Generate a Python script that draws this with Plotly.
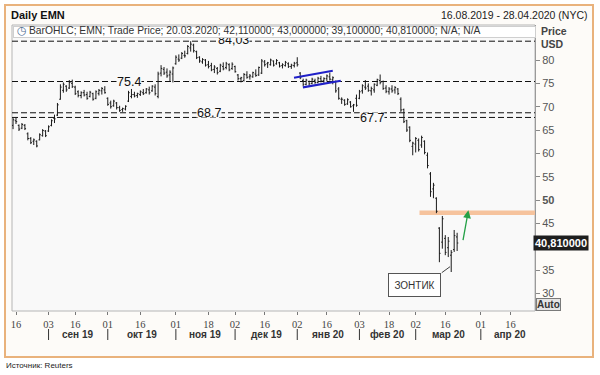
import plotly.graph_objects as go

# ---------------- data ----------------
dates = [
    "2019-08-15", "2019-08-16", "2019-08-19", "2019-08-20", "2019-08-21", "2019-08-22", "2019-08-23",
    "2019-08-26", "2019-08-27", "2019-08-28", "2019-08-29", "2019-08-30",
    "2019-09-03", "2019-09-04", "2019-09-05", "2019-09-06", "2019-09-09", "2019-09-10", "2019-09-11",
    "2019-09-12", "2019-09-13", "2019-09-16", "2019-09-17", "2019-09-18", "2019-09-19", "2019-09-20",
    "2019-09-23", "2019-09-24", "2019-09-25", "2019-09-26", "2019-09-27", "2019-09-30",
    "2019-10-01", "2019-10-02", "2019-10-03", "2019-10-04", "2019-10-07", "2019-10-08", "2019-10-09",
    "2019-10-10", "2019-10-11", "2019-10-14", "2019-10-15", "2019-10-16", "2019-10-17", "2019-10-18",
    "2019-10-21", "2019-10-22", "2019-10-23", "2019-10-24", "2019-10-25", "2019-10-28", "2019-10-29",
    "2019-10-30", "2019-10-31",
    "2019-11-01", "2019-11-04", "2019-11-05", "2019-11-06", "2019-11-07", "2019-11-08", "2019-11-11",
    "2019-11-12", "2019-11-13", "2019-11-14", "2019-11-15", "2019-11-18", "2019-11-19", "2019-11-20",
    "2019-11-21", "2019-11-22", "2019-11-25", "2019-11-26", "2019-11-27", "2019-11-29",
    "2019-12-02", "2019-12-03", "2019-12-04", "2019-12-05", "2019-12-06", "2019-12-09", "2019-12-10",
    "2019-12-11", "2019-12-12", "2019-12-13", "2019-12-16", "2019-12-17", "2019-12-18", "2019-12-19",
    "2019-12-20", "2019-12-23", "2019-12-24", "2019-12-26", "2019-12-27", "2019-12-30", "2019-12-31",
    "2020-01-02", "2020-01-03", "2020-01-06", "2020-01-07", "2020-01-08", "2020-01-09", "2020-01-10",
    "2020-01-13", "2020-01-14", "2020-01-15", "2020-01-16", "2020-01-17", "2020-01-21", "2020-01-22",
    "2020-01-23", "2020-01-24", "2020-01-27", "2020-01-28", "2020-01-29", "2020-01-30", "2020-01-31",
    "2020-02-03", "2020-02-04", "2020-02-05", "2020-02-06", "2020-02-07", "2020-02-10", "2020-02-11",
    "2020-02-12", "2020-02-13", "2020-02-14", "2020-02-18", "2020-02-19", "2020-02-20", "2020-02-21",
    "2020-02-24", "2020-02-25", "2020-02-26", "2020-02-27", "2020-02-28",
    "2020-03-02", "2020-03-03", "2020-03-04", "2020-03-05", "2020-03-06", "2020-03-09", "2020-03-10",
    "2020-03-11", "2020-03-12", "2020-03-13", "2020-03-16", "2020-03-17", "2020-03-18", "2020-03-19",
    "2020-03-20",
]

opens = [
    66.0, 67.0, 66.0, 65.4, 66.0, 64.2, 63.2, 62.6, 62.6, 62.9, 63.8, 64.8,
    64.8, 66.0, 67.5, 68.2, 71.6, 73.5, 74.4, 74.0, 75.0, 74.2, 73.2, 72.4, 73.0, 72.6, 72.2, 72.8, 71.8, 72.8, 73.4, 73.6,
    71.8, 70.8, 70.2, 70.8, 69.8, 69.4, 69.5, 71.2, 72.2, 72.6, 72.4, 72.6, 73.0, 73.0, 73.6, 73.4, 74.2, 72.2, 77.2, 78.0, 77.4, 76.8, 77.0,
    79.2, 80.2, 80.4, 81.0, 81.4, 82.6, 83.2, 81.8, 80.6, 79.6, 80.0, 79.0, 78.8, 78.0, 78.2, 77.6, 78.6, 78.4, 79.0, 78.2,
    78.6, 76.8, 76.0, 75.6, 76.8, 76.4, 76.4, 77.0, 76.8, 77.2, 79.6, 79.2, 79.0, 79.8, 79.2, 79.4, 78.8, 78.8, 79.2, 78.6, 78.8,
    79.4, 77.2, 75.6, 74.8, 75.4, 75.0, 75.6, 75.2, 76.0, 75.6, 76.0, 76.4, 75.8, 75.4, 73.8, 71.6, 71.4, 70.6, 71.0, 70.2, 71.8,
    71.8, 73.4, 74.2, 74.4, 73.4, 73.6, 74.6, 75.6, 75.4, 74.0, 73.2, 73.8, 73.6, 73.8, 71.6, 69.4, 67.0, 65.6, 61.5,
    62.0, 62.8, 61.8, 62.6, 59.6, 55.6, 52.4, 50.4, 44.0, 41.0, 41.8, 39.8, 38.2, 39.4, 42.11,
]
highs = [
    67.6, 67.8, 66.2, 66.5, 66.3, 64.5, 63.5, 63.2, 62.8, 64.3, 65.2, 65.0,
    66.0, 67.3, 68.3, 70.8, 74.8, 75.2, 74.6, 75.7, 75.8, 74.5, 73.5, 73.3, 73.6, 73.2, 73.4, 73.0, 73.5, 73.8, 74.2, 74.4,
    72.0, 71.3, 71.5, 71.0, 70.2, 69.8, 70.3, 73.4, 73.8, 73.2, 73.0, 73.5, 73.8, 74.0, 74.3, 74.6, 74.8, 77.5, 78.9, 78.5, 78.2, 77.8, 78.6,
    81.0, 81.2, 81.7, 82.0, 83.2, 84.03, 83.5, 82.0, 80.8, 80.4, 80.2, 79.8, 79.4, 78.9, 78.5, 79.2, 79.5, 79.6, 79.3, 79.5,
    78.8, 77.0, 76.4, 77.2, 77.6, 77.0, 77.5, 78.0, 78.6, 80.2, 80.0, 79.6, 80.3, 79.9, 80.2, 79.6, 79.3, 79.8, 79.5, 79.2, 79.6,
    80.6, 77.4, 76.0, 76.0, 75.6, 76.2, 76.0, 76.4, 76.6, 76.3, 76.9, 77.3, 76.5, 75.6, 74.2, 72.0, 71.6, 71.8, 71.2, 70.6, 72.6,
    73.6, 74.8, 75.7, 75.0, 74.3, 75.0, 76.0, 76.9, 75.6, 74.6, 74.2, 74.6, 74.4, 74.0, 72.0, 69.6, 67.2, 65.8, 62.5,
    63.5, 63.2, 63.8, 62.8, 60.2, 56.0, 53.7, 50.6, 44.2, 46.6, 42.5, 42.1, 39.3, 43.6, 43.0,
]
lows = [
    65.2, 66.3, 64.8, 65.2, 65.0, 62.8, 62.0, 61.8, 61.3, 62.8, 63.6, 63.5,
    64.6, 65.8, 66.5, 68.0, 71.5, 73.0, 73.2, 73.8, 74.0, 72.5, 72.0, 71.8, 72.2, 71.5, 72.0, 71.3, 71.6, 72.4, 72.6, 72.8,
    70.2, 69.6, 70.0, 69.4, 68.9, 68.9, 69.2, 71.0, 71.8, 72.0, 71.9, 72.3, 72.5, 72.8, 72.6, 73.2, 72.4, 71.8, 76.5, 76.8, 76.2, 75.4, 75.2,
    79.0, 79.6, 80.2, 80.5, 81.2, 81.8, 81.6, 80.2, 79.4, 79.2, 78.6, 78.2, 77.6, 77.2, 76.9, 77.4, 77.8, 78.0, 77.6, 77.9,
    77.3, 75.6, 75.2, 75.4, 76.0, 75.8, 76.2, 76.4, 76.6, 77.0, 78.6, 78.3, 78.8, 78.6, 79.0, 78.4, 78.2, 78.6, 78.3, 78.1, 78.4,
    78.6, 75.9, 74.4, 74.6, 74.5, 74.8, 74.9, 75.0, 75.2, 75.1, 75.4, 75.6, 74.8, 73.0, 71.5, 70.6, 70.2, 70.4, 69.8, 68.9, 70.0,
    71.6, 72.8, 73.6, 73.2, 72.4, 73.0, 74.4, 74.8, 73.6, 72.9, 72.6, 73.0, 72.8, 72.5, 68.9, 66.5, 64.6, 62.4, 59.6,
    60.2, 60.4, 61.2, 59.8, 56.8, 50.7, 50.4, 47.2, 36.7, 39.6, 38.2, 37.8, 34.6, 38.9, 39.1,
]
closes = [
    67.2, 66.8, 65.2, 66.2, 65.3, 63.2, 62.3, 62.9, 61.6, 64.0, 64.9, 63.8,
    65.7, 67.0, 67.4, 70.4, 74.2, 74.8, 73.6, 75.2, 74.3, 72.8, 72.4, 73.0, 72.5, 71.8, 73.1, 71.6, 73.2, 73.5, 73.9, 73.0,
    70.5, 70.0, 71.2, 69.8, 69.2, 69.6, 70.1, 73.0, 72.6, 72.3, 72.8, 73.2, 72.8, 73.8, 73.0, 74.4, 72.8, 77.0, 78.2, 77.2, 76.6, 77.4, 78.3,
    80.6, 80.0, 81.4, 80.9, 82.9, 83.4, 82.0, 80.5, 79.8, 80.1, 78.9, 78.6, 77.9, 78.5, 77.3, 78.9, 78.1, 79.2, 77.9, 79.1,
    77.5, 76.0, 76.2, 76.9, 76.3, 76.6, 77.3, 76.7, 78.4, 79.8, 79.0, 79.4, 80.0, 78.9, 79.9, 78.7, 79.0, 79.5, 78.6, 78.9, 79.3,
    79.0, 76.2, 74.8, 75.7, 74.9, 75.9, 75.2, 76.1, 75.5, 76.0, 76.6, 75.9, 76.2, 73.4, 71.8, 71.6, 70.5, 71.5, 70.0, 70.4, 70.3,
    73.2, 74.5, 74.0, 73.5, 73.9, 74.8, 75.8, 75.2, 73.9, 73.3, 73.8, 73.4, 74.1, 72.8, 69.3, 66.8, 65.0, 62.8, 62.2,
    63.2, 60.8, 63.4, 60.2, 57.4, 51.8, 53.2, 47.6, 38.6, 46.0, 38.8, 41.2, 38.8, 42.4, 40.81,
]

holidays = ["2019-09-02", "2019-11-28", "2019-12-25", "2020-01-01", "2020-01-20", "2020-02-17", "2020-04-10"]
x_range = ["2019-08-14 15:36", "2020-04-28 07:12"]

day_tick_dates = ["2019-08-16", "2019-09-03", "2019-09-16", "2019-10-01", "2019-10-16", "2019-11-01",
                  "2019-11-18", "2019-12-02", "2019-12-16", "2020-01-02", "2020-01-16", "2020-02-03",
                  "2020-02-18", "2020-03-02", "2020-03-16", "2020-04-01", "2020-04-16"]
day_tick_text = ["16", "03", "16", "01", "16", "01", "18", "02", "16", "02", "16", "03", "18", "02", "16", "01", "16"]

month_labels = ["сен 19", "окт 19", "ноя 19", "дек 19", "янв 20", "фев 20", "мар 20", "апр 20"]
month_label_dates = ["2019-09-17", "2019-10-16 12:00", "2019-11-15", "2019-12-16 12:00",
                     "2020-01-16 12:00", "2020-02-14 12:00", "2020-03-17", "2020-04-16"]
month_start_dates = ["2019-09-03", "2019-10-01", "2019-11-01", "2019-12-02",
                     "2020-01-02", "2020-02-03", "2020-03-02", "2020-04-01"]

# the "40" label sits under the last-price box in the reference, so it is left blank
y_ticks = [30, 35, 40, 45, 50, 55, 60, 65, 70, 75, 80]
y_tick_text = ["30", "35", "", "45", "<b>50</b>", "55", "60", "65", "70", "75", "80"]
y_range = [26.25, 87.5]

levels = [84.03, 75.4, 68.7, 67.7]
level_labels = ["84,03", "75,4", "68,7", "67,7"]

resistance = 47.3
resistance_start = "2020-03-03 07:00"

channel_upper_x = ["2019-12-30 21:36", "2020-01-21 00:00"]
channel_upper_y = [76.21, 77.71]
channel_lower_x = ["2020-01-03 21:36", "2020-01-23 16:48"]
channel_lower_y = [74.15, 75.57]

arrow_tail = ("2020-03-23 21:36", 41.1)
arrow_head = ("2020-03-25 19:12", 47.8)

pointer_start = ("2020-03-12 19:12", 34.45)
pointer_end = ("2020-03-17 14:24", 35.74)

last_price = 40.81
legend_text = ("BarOHLC; EMN; Trade Price; 20.03.2020; 42,110000; 43,000000; "
               "39,100000; 40,810000; N/A; N/A")

# ---------------- layout helpers (pixel -> paper) ----------------
W, H = 600, 375
ML, MR, MT, MB = 12, 65, 25, 64
PW, PH = W - ML - MR, H - MT - MB


def px(x):
    return (x - ML) / PW


def py(y):
    return (H - MB - y) / PH


SANS = "Liberation Sans"

fig = go.Figure()
fig.add_trace(go.Ohlc(
    x=dates, open=opens, high=highs, low=lows, close=closes,
    increasing=dict(line=dict(color="#1a1a1a", width=1)),
    decreasing=dict(line=dict(color="#1a1a1a", width=1)),
    tickwidth=0.4, showlegend=False, hoverinfo="skip",
))

shapes = []
# outer frame
shapes.append(dict(type="rect", xref="paper", yref="paper", x0=px(5), x1=px(593), y0=py(357), y1=py(5),
                   fillcolor="#fdfbf8", line=dict(color="#e9b27c", width=2), layer="below"))
# plot area
shapes.append(dict(type="rect", xref="paper", yref="paper", x0=0, x1=1, y0=0, y1=1,
                   fillcolor="#f9f9f9", line=dict(color="#b5b5b5", width=1), layer="below"))
# level lines
for lv in levels:
    shapes.append(dict(type="line", xref="paper", yref="y", x0=0, x1=1, y0=lv, y1=lv,
                       line=dict(color="#111111", width=1, dash="6px,3px"), layer="below"))
# orange resistance line
shapes.append(dict(type="line", xref="x", yref="y", x0=resistance_start, x1=x_range[1],
                   y0=resistance, y1=resistance, line=dict(color="#f6c39d", width=4.5), layer="below"))
# blue channel
shapes.append(dict(type="line", xref="x", yref="y", x0=channel_upper_x[0], x1=channel_upper_x[1],
                   y0=channel_upper_y[0], y1=channel_upper_y[1], line=dict(color="#2020c8", width=2.2)))
shapes.append(dict(type="line", xref="x", yref="y", x0=channel_lower_x[0], x1=channel_lower_x[1],
                   y0=channel_lower_y[0], y1=channel_lower_y[1], line=dict(color="#2020c8", width=2.2)))
# pointer line to the hammer
shapes.append(dict(type="line", xref="x", yref="y", x0=pointer_start[0], x1=pointer_end[0],
                   y0=pointer_start[1], y1=pointer_end[1], line=dict(color="#444444", width=1)))
# month separators
for d in month_start_dates:
    shapes.append(dict(type="line", xref="x", yref="paper", x0=d, x1=d, y0=py(340), y1=py(329),
                       line=dict(color="#333333", width=1)))

ann = []
# title row
ann.append(dict(xref="paper", yref="paper", x=px(9), y=py(15), xanchor="left", yanchor="middle",
                text="<b>Daily EMN</b>", showarrow=False, font=dict(family=SANS, size=11, color="#111111")))
ann.append(dict(xref="paper", yref="paper", x=px(590), y=py(15), xanchor="right", yanchor="middle",
                text="16.08.2019 - 28.04.2020 (NYC)", showarrow=False,
                font=dict(family=SANS, size=10.5, color="#222222")))
# level labels
level_label_x = [233, 129, 209, 372]
for lv, lab, lx in zip(levels, level_labels, level_label_x):
    if lab == "84,03":
        ann.append(dict(xref="paper", yref="paper", x=px(lx), y=py(39.5), xanchor="center", yanchor="middle",
                        text=lab, showarrow=False, bgcolor="#f9f9f9", borderpad=0,
                        font=dict(family=SANS, size=12.5, color="#111111")))
    else:
        ann.append(dict(xref="paper", yref="y", x=px(lx), y=lv, xanchor="center", yanchor="middle",
                        text=lab, showarrow=False, bgcolor="#f9f9f9", borderpad=0, height=9,
                        font=dict(family=SANS, size=12.5, color="#111111")))
# legend strip (drawn after 84,03 so that it covers its top)
ann.append(dict(xref="paper", yref="paper", x=px(12.5), y=py(25.5), xanchor="left", yanchor="top",
                text="", showarrow=False, bgcolor="#ffffff", bordercolor="#cfcfcf", borderwidth=1,
                width=521, height=10, borderpad=0))
ann.append(dict(xref="paper", yref="paper", x=px(15), y=py(31), xanchor="left", yanchor="middle",
                text="◷", showarrow=False, font=dict(family="DejaVu Sans", size=11, color="#4a6a90")))
ann.append(dict(xref="paper", yref="paper", x=px(27), y=py(31), xanchor="left", yanchor="middle",
                text=legend_text, showarrow=False, font=dict(family=SANS, size=10.3, color="#333333")))
# axis title
ann.append(dict(xref="paper", yref="paper", x=px(539), y=py(31), xanchor="left", yanchor="middle",
                text="<b>Price</b>", showarrow=False, font=dict(family=SANS, size=10.5, color="#444444")))
ann.append(dict(xref="paper", yref="paper", x=px(539), y=py(44), xanchor="left", yanchor="middle",
                text="<b>USD</b>", showarrow=False, font=dict(family=SANS, size=10.5, color="#444444")))
# last price box
ann.append(dict(xref="paper", yref="y", x=px(533), y=last_price, xanchor="left", yanchor="middle",
                text="<b>40,810000</b>", showarrow=False, bgcolor="#1e1e1e", borderpad=1,
                font=dict(family=SANS, size=11, color="#ffffff")))
# Auto button
ann.append(dict(xref="paper", yref="paper", x=px(536), y=py(304), xanchor="left", yanchor="middle",
                text="<b>Auto</b>", showarrow=False, bgcolor="#e4e4e4", bordercolor="#7a7a7a",
                borderwidth=1, borderpad=0, font=dict(family=SANS, size=10, color="#333333")))
# hammer label box
ann.append(dict(xref="paper", yref="paper", x=px(414.5), y=py(285), xanchor="center", yanchor="middle",
                text="ЗОНТИК", showarrow=False, bgcolor="#ffffff", bordercolor="#555555", borderwidth=1,
                width=51, height=22, borderpad=0, font=dict(family=SANS, size=10, color="#333333")))
# green arrow
ann.append(dict(xref="x", yref="y", x=arrow_head[0], y=arrow_head[1], axref="x", ayref="y",
                ax=arrow_tail[0], ay=arrow_tail[1], text="", showarrow=True, arrowhead=2,
                arrowsize=1.2, arrowwidth=1.3, arrowcolor="#23a046"))
# month labels
for lab, d in zip(month_labels, month_label_dates):
    ann.append(dict(xref="x", yref="paper", x=d, y=py(334.5), xanchor="center", yanchor="middle",
                    text="<b>" + lab + "</b>", showarrow=False,
                    font=dict(family=SANS, size=10, color="#333333")))
# source
ann.append(dict(xref="paper", yref="paper", x=px(4), y=py(365), xanchor="left", yanchor="middle",
                text="Источник: Reuters", showarrow=False, font=dict(family=SANS, size=8, color="#222222")))

fig.update_layout(
    width=W, height=H, autosize=False,
    margin=dict(l=ML, r=MR, t=MT, b=MB, pad=0),
    paper_bgcolor="#ffffff", plot_bgcolor="#f9f9f9",
    shapes=shapes, annotations=ann, showlegend=False,
    xaxis=dict(
        type="date", range=x_range,
        rangebreaks=[dict(bounds=["sat", "mon"]), dict(values=holidays)],
        rangeslider=dict(visible=False),
        tickmode="array", tickvals=day_tick_dates, ticktext=day_tick_text,
        ticks="outside", ticklen=3, tickcolor="#777777",
        tickfont=dict(family="Liberation Serif", size=10.5, color="#444444"),
        showgrid=False, zeroline=False, showline=False,
    ),
    yaxis=dict(
        side="right", range=y_range,
        tickmode="array", tickvals=y_ticks, ticktext=y_tick_text,
        ticks="outside", ticklen=4, tickcolor="#888888",
        tickfont=dict(family=SANS, size=11, color="#555555"),
        showgrid=False, zeroline=False, showline=True, linecolor="#9a9a9a", linewidth=1,
    ),
)

fig.write_html("out.html",
               config={"displayModeBar": False, "staticPlot": True},
               post_script="document.body.style.margin='0px';document.body.style.padding='0px';")
